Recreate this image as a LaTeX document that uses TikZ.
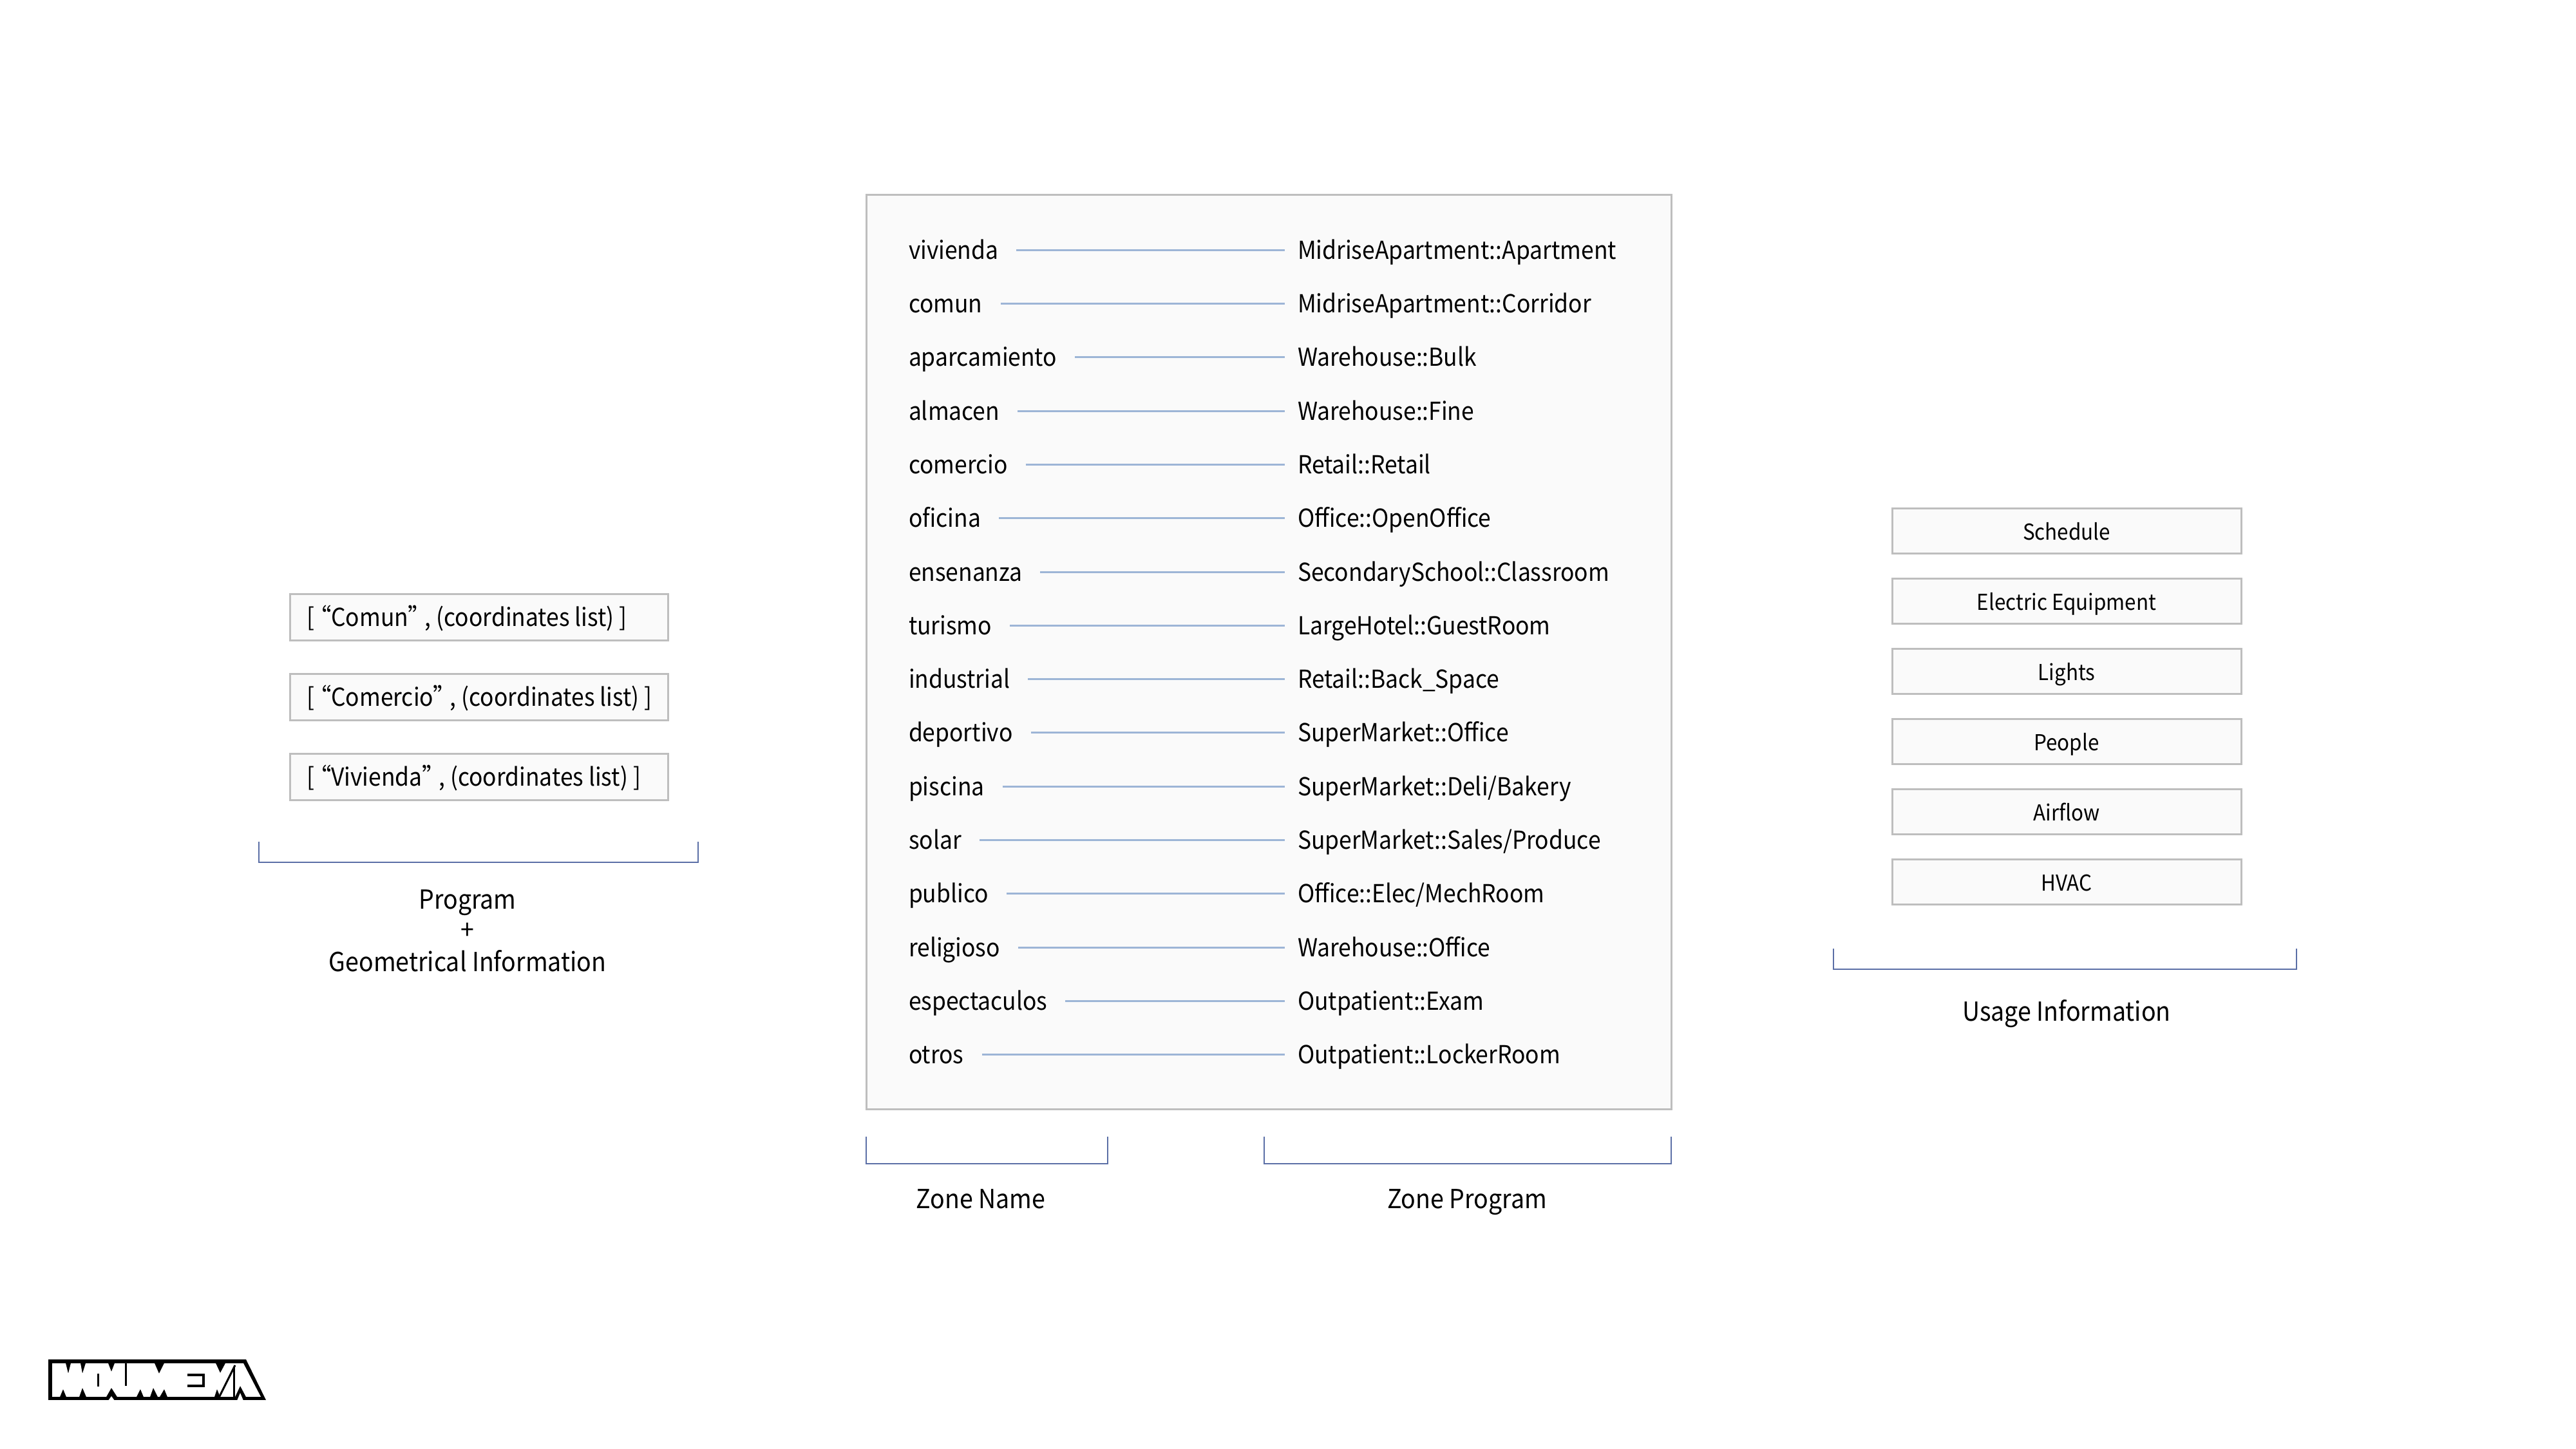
\documentclass[tikz,border=0pt]{standalone}
\usepackage{fontspec}
\setmainfont[RawFeature=+palt, FakeStretch=.92]{Noto Sans CJK SC}
\definecolor{boxedge}{HTML}{BEBEBE}
\definecolor{boxfill}{HTML}{FAFAFA}
\definecolor{linkblue}{HTML}{9DB5D6}
\definecolor{brkblue}{HTML}{5B6FA6}
\newcommand{\geotxt}[1]{\hbox to 5.35cm{\spaceskip=.08cm #1\hfil}}
\begin{document}
\begin{tikzpicture}[
  base/.style={font=\fontsize{10.95pt}{13pt}\selectfont, text height=.36cm, text depth=.08cm},
  zname/.style={base, anchor=west, inner xsep=0pt, outer xsep=.28cm},
  zprog/.style={base, anchor=west, inner xsep=0pt, outer xsep=.2cm},
  link/.style={linkblue, line width=.03cm},
  brk/.style={brkblue, line width=.025cm},
  geobox/.style={base, draw=boxedge, fill=boxfill, line width=.03cm, minimum height=.72cm, inner xsep=.26cm, inner ysep=0pt},
  usebox/.style={base, draw=boxedge, fill=boxfill, line width=.03cm, minimum width=5.42cm, minimum height=.7cm, inner sep=0pt, font=\fontsize{9.7pt}{12pt}\selectfont},
  captxt/.style={base, inner sep=0pt, font=\fontsize{11.6pt}{13pt}\selectfont}
]
\useasboundingbox(0,0)rectangle(40,22.5);
% main panel
\draw[draw=boxedge, fill=boxfill, line width=.03cm](13.45,5.27)rectangle(25.95,19.47);
% zone names
\node[zname](viv)at(13.83,18.61){vivienda};
\node[zname](com)at(13.83,17.78){comun};
\node[zname](apa)at(13.83,16.95){aparcamiento};
\node[zname](alm)at(13.83,16.11){almacen};
\node[zname](cmr)at(13.83,15.28){comercio};
\node[zname](ofi)at(13.83,14.45){oficina};
\node[zname](ens)at(13.83,13.61){ensenanza};
\node[zname](tur)at(13.83,12.78){turismo};
\node[zname](ind)at(13.83,11.95){industrial};
\node[zname](dep)at(13.83,11.12){deportivo};
\node[zname](pis)at(13.83,10.28){piscina};
\node[zname](sol)at(13.83,9.45){solar};
\node[zname](pub)at(13.83,8.62){publico};
\node[zname](rel)at(13.83,7.78){religioso};
\node[zname](esp)at(13.83,6.95){espectaculos};
\node[zname](otr)at(13.83,6.12){otros};
% zone programs
\node[zprog](pviv)at(19.95,18.61){MidriseApartment::Apartment};
\node[zprog](pcom)at(19.95,17.78){MidriseApartment::Corridor};
\node[zprog](papa)at(19.95,16.95){Warehouse::Bulk};
\node[zprog](palm)at(19.95,16.11){Warehouse::Fine};
\node[zprog](pcmr)at(19.95,15.28){Retail::Retail};
\node[zprog](pofi)at(19.95,14.45){Office::OpenOffice};
\node[zprog](pens)at(19.95,13.61){SecondarySchool::Classroom};
\node[zprog](ptur)at(19.95,12.78){LargeHotel::GuestRoom};
\node[zprog](pind)at(19.95,11.95){Retail::Back\_Space};
\node[zprog](pdep)at(19.95,11.12){SuperMarket::Office};
\node[zprog](ppis)at(19.95,10.28){SuperMarket::Deli/Bakery};
\node[zprog](psol)at(19.95,9.45){SuperMarket::Sales/Produce};
\node[zprog](ppub)at(19.95,8.62){Office::Elec/MechRoom};
\node[zprog](prel)at(19.95,7.78){Warehouse::Office};
\node[zprog](pesp)at(19.95,6.95){Outpatient::Exam};
\node[zprog](potr)at(19.95,6.12){Outpatient::LockerRoom};
% links
\draw[link](viv.east)--(pviv.west);
\draw[link](com.east)--(pcom.west);
\draw[link](apa.east)--(papa.west);
\draw[link](alm.east)--(palm.west);
\draw[link](cmr.east)--(pcmr.west);
\draw[link](ofi.east)--(pofi.west);
\draw[link](ens.east)--(pens.west);
\draw[link](tur.east)--(ptur.west);
\draw[link](ind.east)--(pind.west);
\draw[link](dep.east)--(pdep.west);
\draw[link](pis.east)--(ppis.west);
\draw[link](sol.east)--(psol.west);
\draw[link](pub.east)--(ppub.west);
\draw[link](rel.east)--(prel.west);
\draw[link](esp.east)--(pesp.west);
\draw[link](otr.east)--(potr.west);
% left boxes
\node[geobox](gcom)at(7.44,12.91){\geotxt{[ “Comun” , (coordinates list) ]}};
\node[geobox](gcmr)at(7.44,11.67){\geotxt{[ “Comercio” , (coordinates list) ]}};
\node[geobox](gviv)at(7.44,10.43){\geotxt{[ “Vivienda” , (coordinates list) ]}};
% right boxes
\node[usebox](usch)at(32.09,14.25){Schedule};
\node[usebox](uele)at(32.09,13.16){Electric Equipment};
\node[usebox](ulig)at(32.09,12.07){Lights};
\node[usebox](upeo)at(32.09,10.98){People};
\node[usebox](uair)at(32.09,9.89){Airflow};
\node[usebox](uhva)at(32.09,8.80){HVAC};
% brackets
\draw[brk](4.02,9.43)--(4.02,9.11)--(10.84,9.11)--(10.84,9.43);
\draw[brk](13.45,4.85)--(13.45,4.43)--(17.2,4.43)--(17.2,4.85);
\draw[brk](19.63,4.85)--(19.63,4.43)--(25.95,4.43)--(25.95,4.85);
\draw[brk](28.47,7.77)--(28.47,7.45)--(35.66,7.45)--(35.66,7.77);
% captions
\node[captxt](gl1)at(7.26,8.52){Program};
\node[captxt](gl2)at(7.26,8.05){+};
\node[captxt](gl3)at(7.26,7.55){Geometrical Information};
\node[captxt](znl)at(15.23,3.87){Zone Name};
\node[captxt](zpl)at(22.78,3.87){Zone Program};
\node[captxt](uil)at(32.09,6.78){Usage Information};
% logo
\fill(.75,1.39)--(3.82,1.39)--(4.13,.76)--(.75,.76)--cycle;
\fill[white](.81,1.33)--(1.02,1.33)--(1.06,1.17)--(1.10,1.33)--(1.25,1.33)--(1.28,1.17)--(1.33,1.33)
  --(1.68,1.33)--(1.73,1.20)--(1.78,1.33)--(2.40,1.33)--(2.47,1.17)--(2.55,1.33)
  --(3.35,1.33)--(3.42,1.18)--(3.50,1.33)--(3.78,1.33)--(4.05,.81)
  --(3.82,.81)--(3.73,.98)--(3.65,.81)--(3.42,.81)--(3.37,.93)--(3.33,.81)
  --(2.60,.81)--(2.55,.93)--(2.48,.81)--(2.45,.81)--(2.38,.95)--(2.33,.81)
  --(2.23,.81)--(2.18,.93)--(2.12,.81)--(1.82,.81)--(1.73,.95)--(1.65,.81)
  --(1.34,.81)--(1.28,.95)--(1.23,.81)--(1.03,.81)--(.98,.93)--(.93,.81)--(.81,.81)--cycle;
\fill[white](1.68,.75)--(1.73,.82)--(1.78,.75)--cycle;
\fill[white](3.68,.75)--(3.73,.87)--(3.78,.75)--cycle;
\draw[line width=.03cm](1.52,1.17)--(1.52,.97);
\draw[line width=.03cm](1.95,1.33)--(1.95,.98);
\draw[line width=.04cm](2.91,1.15)--(3.16,1.15)--(3.16,.98)--(2.91,.98);
\draw[line width=.03cm](3.65,1.30)--(3.40,.80);
\draw[line width=.03cm](3.63,1.28)--(3.63,.80);
\end{tikzpicture}
\end{document}
